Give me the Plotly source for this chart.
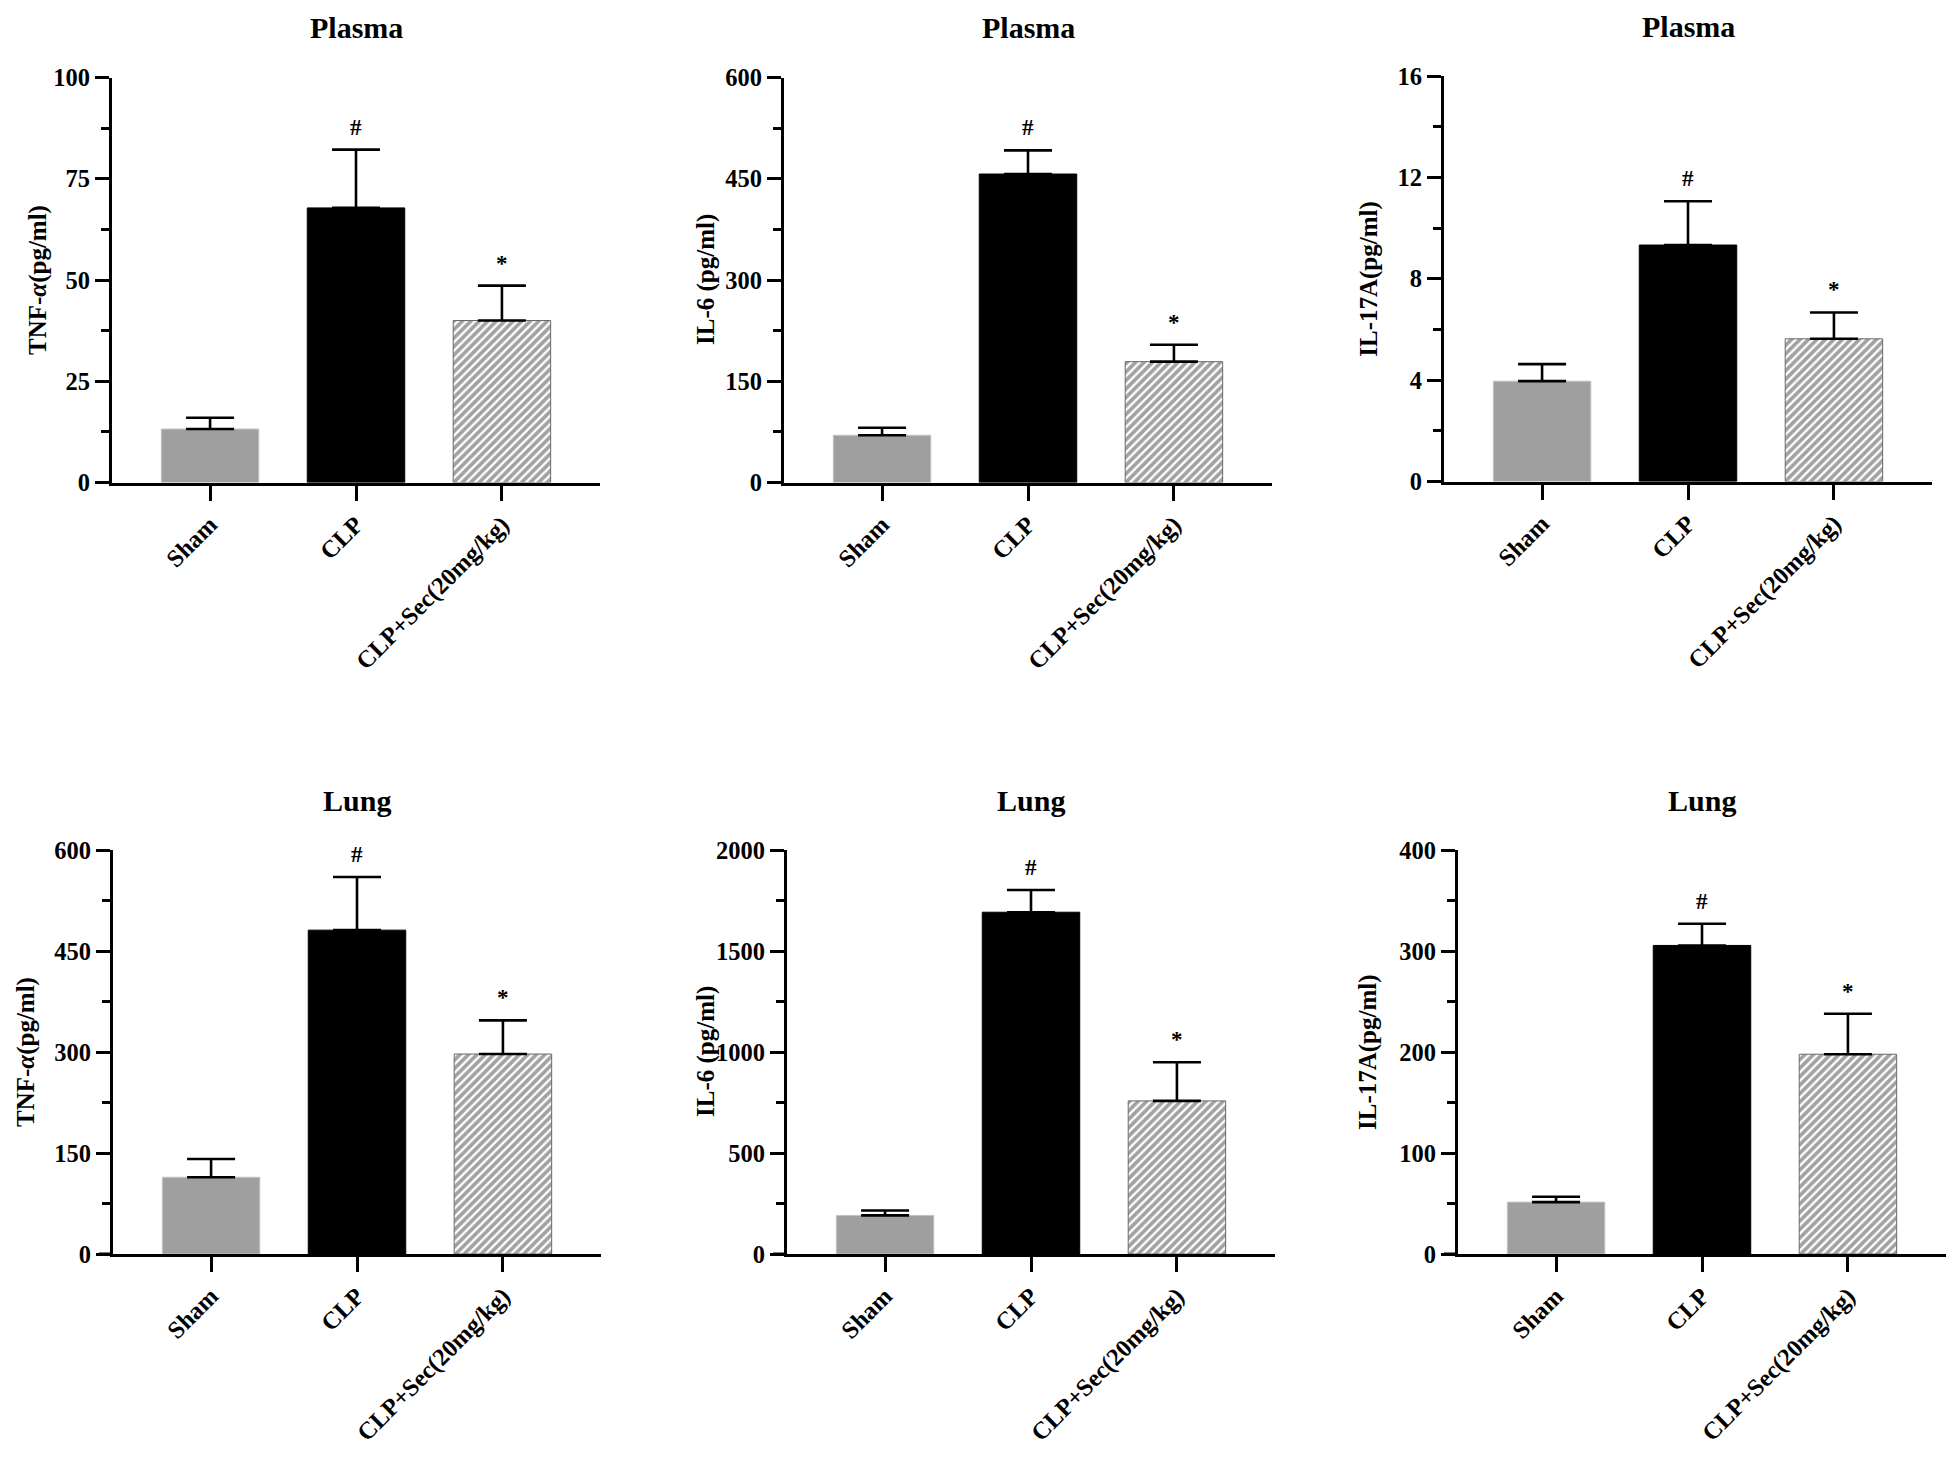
import plotly.graph_objects as go

# page body has an 8px margin: draw in reference pixel coordinates, shifted by it
OFF = 8
FW, FH = 1960 - OFF, 1457 - OFF

groups = ["Sham", "CLP", "CLP+Sec(20mg/kg)"]

# panel values (mean, upper error)
plasma_tnf = [13.2, 67.8, 40.0]
plasma_tnf_err = [2.8, 14.4, 8.6]
plasma_il6 = [70, 457, 179]
plasma_il6_err = [11, 35, 25]
plasma_il17 = [3.96, 9.33, 5.63]
plasma_il17_err = [0.67, 1.73, 1.04]
lung_tnf = [114, 481, 297]
lung_tnf_err = [27, 79, 50]
lung_il6 = [191, 1692, 758]
lung_il6_err = [24, 110, 191]
lung_il17 = [51.4, 305.5, 197.8]
lung_il17_err = [5.3, 21.5, 40.0]

marks = ["", "#", "*"]

panels = [
    dict(vals=plasma_tnf, err=plasma_tnf_err, ymax=100, dtick=25, title="Plasma",
         ylab="TNF-<i>α</i>(pg/ml)", xd=(112, 600), yd=(77.5, 482.5), ylx=38),
    dict(vals=plasma_il6, err=plasma_il6_err, ymax=600, dtick=150, title="Plasma",
         ylab="IL-6 (pg/ml)", xd=(784, 1272), yd=(77.5, 482.5), ylx=706),
    dict(vals=plasma_il17, err=plasma_il17_err, ymax=16, dtick=4, title="Plasma",
         ylab="IL-17A(pg/ml)", xd=(1444, 1932), yd=(76, 481.5), ylx=1369),
    dict(vals=lung_tnf, err=lung_tnf_err, ymax=600, dtick=150, title="Lung",
         ylab="TNF-<i>α</i>(pg/ml)", xd=(113, 601), yd=(850, 1254), ylx=26),
    dict(vals=lung_il6, err=lung_il6_err, ymax=2000, dtick=500, title="Lung",
         ylab="IL-6 (pg/ml)", xd=(787, 1275), yd=(850, 1254), ylx=706),
    dict(vals=lung_il17, err=lung_il17_err, ymax=400, dtick=100, title="Lung",
         ylab="IL-17A(pg/ml)", xd=(1458, 1946), yd=(850, 1254), ylx=1368),
]

FONT = "Liberation Serif"
fig = go.Figure()
annotations = []
shapes = []


def px(x):
    return (x - OFF) / FW


def py(y):
    return 1 - (y - OFF) / FH


for i, p in enumerate(panels, start=1):
    xa = "x" if i == 1 else f"x{i}"
    ya = "y" if i == 1 else f"y{i}"
    xkey = "xaxis" if i == 1 else f"xaxis{i}"
    ykey = "yaxis" if i == 1 else f"yaxis{i}"

    fig.add_trace(go.Bar(
        x=groups, y=p["vals"], xaxis=xa, yaxis=ya, width=0.668,
        marker=dict(
            color=["#9f9f9f", "#000000", "#ffffff"],
            line=dict(color=["#c4c4c4", "#000000", "#6a6a6a"], width=1),
            pattern=dict(shape=["", "", "/"], fgcolor="#3c3c3c", bgcolor="#ffffff",
                         size=6, solidity=0.62),
        ),
        error_y=dict(type="data", symmetric=False, array=p["err"],
                     arrayminus=[0, 0, 0], color="black", thickness=2.6, width=24),
        showlegend=False, hoverinfo="skip",
    ))

    fig.update_layout({
        xkey: dict(
            domain=[px(p["xd"][0]), px(p["xd"][1])],
            anchor=ya, range=[-0.672, 2.672], showgrid=False, zeroline=False,
            showline=True, linecolor="black", linewidth=3,
            ticks="outside", ticklen=15, tickwidth=3, tickcolor="black",
            tickangle=-45, tickfont=dict(family=FONT, size=24.5, color="black", weight="bold"),
            automargin=False,
        ),
        ykey: dict(
            domain=[py(p["yd"][1]), py(p["yd"][0])],
            anchor=xa, range=[0, p["ymax"]], dtick=p["dtick"], tick0=0,
            showgrid=False, zeroline=False, showline=True, linecolor="black", linewidth=3,
            ticks="outside", ticklen=14, tickwidth=3, tickcolor="black",
            minor=dict(dtick=p["dtick"] / 2, ticklen=8, tickwidth=3, tickcolor="black",
                       ticks="outside", showgrid=False),
            tickfont=dict(family=FONT, size=24.5, color="black", weight="bold"),
            automargin=False,
        ),
    })

    # x axis line extension to the left of the y axis
    shapes.append(dict(type="line", xref=f"{xa} domain", yref=f"{ya} domain",
                       x0=-14 / (p["xd"][1] - p["xd"][0]), x1=0, y0=0, y1=0,
                       line=dict(color="black", width=3)))

    # panel title
    annotations.append(dict(text=p["title"], xref=xa, yref="paper", x=1,
                            y=py(p["yd"][0] - 50), yanchor="middle",
                            showarrow=False,
                            font=dict(family=FONT, size=30, color="black", weight="bold")))
    # y-axis label
    annotations.append(dict(text=p["ylab"], xref="paper", yref="paper",
                            x=px(p["ylx"]), y=py((p["yd"][0] + p["yd"][1]) / 2),
                            textangle=-90, showarrow=False, xanchor="center", yanchor="middle",
                            font=dict(family=FONT, size=25, color="black", weight="bold")))
    # significance marks
    for j, m in enumerate(marks):
        if m:
            annotations.append(dict(text=m, xref=xa, yref=ya, x=groups[j],
                                    y=p["vals"][j] + p["err"][j], yanchor="bottom",
                                    yshift=8, showarrow=False,
                                    font=dict(family=FONT, size=23, color="black", weight="bold")))

fig.update_layout(
    width=FW, height=FH, margin=dict(l=0, r=0, t=0, b=0),
    paper_bgcolor="white", plot_bgcolor="white",
    bargap=0.3, annotations=annotations, shapes=shapes,
)

fig.write_html("out.html")
